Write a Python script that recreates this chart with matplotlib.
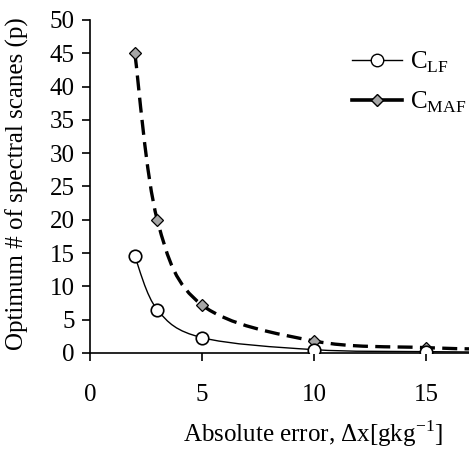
import matplotlib
matplotlib.use("Agg")
import matplotlib.pyplot as plt
from matplotlib.path import Path
from matplotlib.patches import PathPatch
from matplotlib.lines import Line2D

plt.rcParams["font.family"] = ["Liberation Serif", "DejaVu Serif"]
plt.rcParams["mathtext.fontset"] = "custom"
plt.rcParams["mathtext.rm"] = "Liberation Serif"

# data
abs_error = [2, 3, 5, 10, 15, 20]
c_lf = [14.5, 6.5, 2.3, 0.5, 0.2, 0.1]
c_maf = [45.0, 20.0, 7.2, 1.8, 0.8, 0.45]
x_ticks = [0, 5, 10, 15]
y_ticks = list(range(0, 51, 5))


def smooth_path(xs, ys, tension=0.5):
    # Catmull-Rom style bezier path through the data points
    verts = [(xs[0], ys[0])]
    codes = [Path.MOVETO]
    n = len(xs)
    for i in range(n - 1):
        x0, y0 = (xs[i - 1], ys[i - 1]) if i > 0 else (xs[i], ys[i])
        x1, y1 = xs[i], ys[i]
        x2, y2 = xs[i + 1], ys[i + 1]
        x3, y3 = (xs[i + 2], ys[i + 2]) if i + 2 < n else (x2, y2)
        c1 = (x1 + (x2 - x0) * tension / 3, y1 + (y2 - y0) * tension / 3)
        c2 = (x2 - (x3 - x1) * tension / 3, y2 - (y3 - y1) * tension / 3)
        verts += [c1, c2, (x2, y2)]
        codes += [Path.CURVE4] * 3
    return Path(verts, codes)


fig = plt.figure(figsize=(4.69, 4.5), dpi=100)
ax = fig.add_axes([0.192, 0.2156, 0.808, 0.74])

ax.add_patch(PathPatch(smooth_path(abs_error, c_lf), fill=False, lw=1.0,
                       edgecolor="black", zorder=2))
ax.add_patch(PathPatch(smooth_path(abs_error, c_maf), fill=False, lw=2.4,
                       edgecolor="black", linestyle=(0, (4.5, 2.2)), zorder=2))
ax.plot(abs_error, c_lf, "o", ms=9, mfc="white", mec="black", mew=1.2, zorder=4)
ax.plot(abs_error, c_maf, "D", ms=6.5, mfc="#a6a6a6", mec="black", mew=0.9, zorder=3)

ax.set_xlim(0, 16.92)
ax.set_ylim(0, 50)
ax.set_xticks(x_ticks)
ax.set_yticks(y_ticks)
for s in ("top", "right"):
    ax.spines[s].set_visible(False)
ax.spines["left"].set_linewidth(1.2)
ax.spines["bottom"].set_linewidth(1.2)
ax.tick_params(axis="x", direction="out", length=6, width=1.2, pad=16, labelsize=18)
ax.tick_params(axis="y", direction="out", length=6, width=1.2, pad=5, labelsize=18)

fig.text(0.037, 0.593, "Optimum # of spectral scanes (p)", rotation=90,
         ha="center", va="center", fontsize=18)
fig.text(0.667, 0.036, r"Absolute error, $\Delta$x[gkg$^{\mathregular{-1}}$]",
         ha="center", va="center", fontsize=18)

handles = [
    Line2D([], [], color="black", lw=1.0, marker="o", ms=9, mfc="white", mec="black"),
    Line2D([], [], color="black", lw=2.6, marker="D", ms=6.5, mfc="#a6a6a6", mec="black"),
]
ax.legend(handles, [r"C$_{\mathregular{LF}}$", r"C$_{\mathregular{MAF}}$"],
          loc="upper left", bbox_to_anchor=(0.665, 0.94), frameon=False,
          fontsize=18, handlelength=2.0, labelspacing=0.6, handletextpad=0.3,
          borderaxespad=0)

fig.savefig("out.png", dpi=100)
